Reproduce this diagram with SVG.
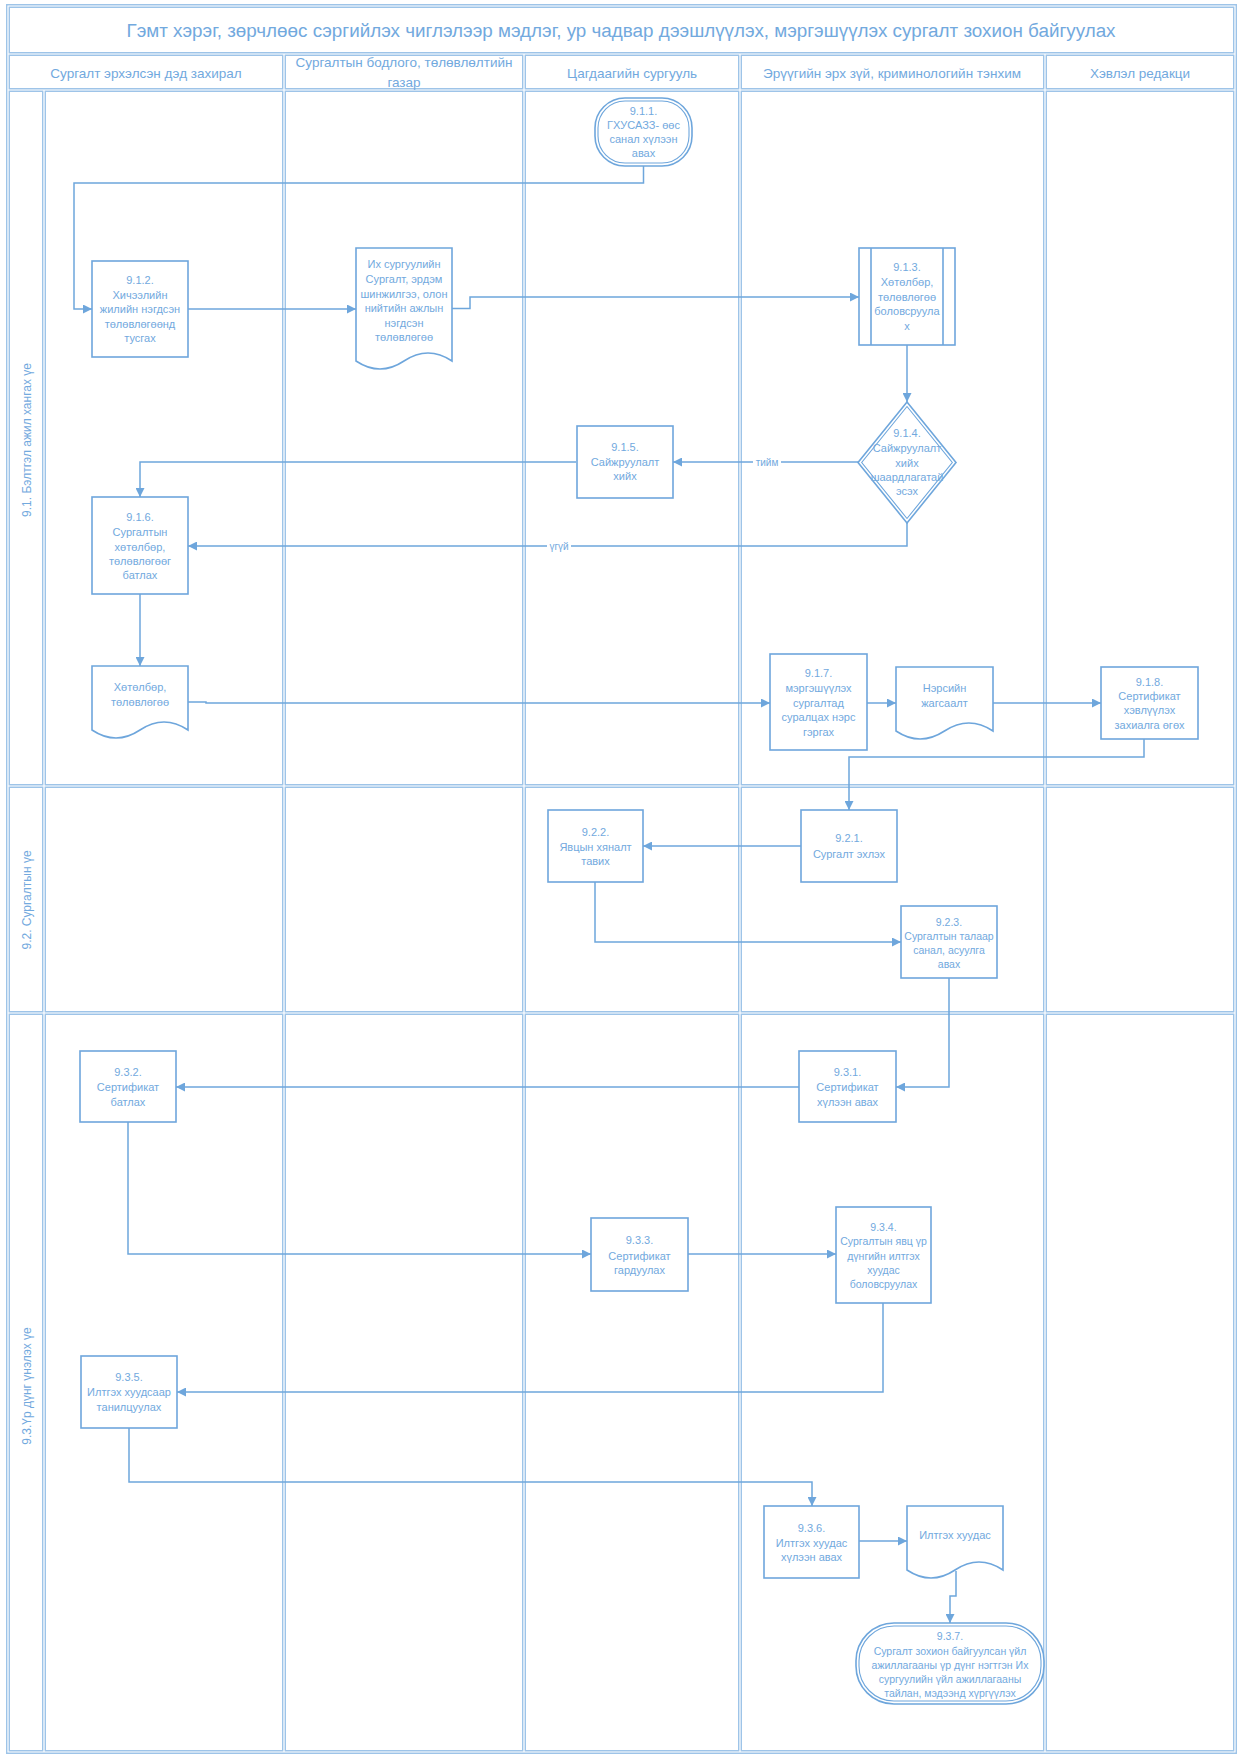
<svg xmlns="http://www.w3.org/2000/svg" width="1240" height="1754" viewBox="0 0 1240 1754">
<style>
  .grid { fill: none; stroke: #9ec4e8; stroke-width: 4; }
  .gridin { fill: none; stroke: #ffffff; stroke-width: 1.2; }
  .node { fill: #ffffff; stroke: #6ea6dc; stroke-width: 1.6; }
  .node2 { fill: none; stroke: #6ea6dc; stroke-width: 1.1; }
  .conn { fill: none; stroke: #6ea6dc; stroke-width: 1.5; marker-end: url(#arr); }
  text { font-family: "Liberation Sans", Arial, sans-serif; fill: #72a9de; }
  .t { font-size: 11px; text-anchor: middle; dominant-baseline: central; }
  .ts { font-size: 10.5px; text-anchor: middle; dominant-baseline: central; }
  .h { font-size: 13.5px; text-anchor: middle; dominant-baseline: central; }
  .lane { font-size: 12px; text-anchor: middle; dominant-baseline: central; }
  .title { font-size: 18px; text-anchor: middle; dominant-baseline: central; }
  .lbl { font-size: 10px; text-anchor: middle; dominant-baseline: central; }
</style>
<defs>
  <marker id="arr" viewBox="0 0 10 10" refX="10" refY="5" markerWidth="9" markerHeight="9" markerUnits="userSpaceOnUse" orient="auto">
    <path d="M0,0 L10,5 L0,10 Z" fill="#6ea6dc"/>
  </marker>
  <path id="gridpath" d="M8,6 H1235 V1752 H8 Z M8,54 H1235 M8,90 H1235 M8,786 H1235 M8,1013 H1235 M284,54 V1752 M524,54 V1752 M740,54 V1752 M1045,54 V1752 M44,90 V1752"/>
</defs>
<rect x="0" y="0" width="1240" height="1754" fill="#ffffff"/>
<g id="grid">
  <use href="#gridpath" class="grid"/>
  <use href="#gridpath" class="gridin"/>
</g>
<g id="title">
  <text class="title" x="621" y="31" textLength="989" lengthAdjust="spacingAndGlyphs">Гэмт хэрэг, зөрчлөөс сэргийлэх чиглэлээр мэдлэг, ур чадвар дээшлүүлэх, мэргэшүүлэх сургалт зохион байгуулах</text>
</g>
<g id="headers">
  <text class="h" x="146" y="73">Сургалт эрхэлсэн дэд захирал</text>
  <text class="h" x="404" y="62">Сургалтын бодлого, төлөвлөлтийн</text>
  <text class="h" x="404" y="82">газар</text>
  <text class="h" x="632" y="73">Цагдаагийн сургууль</text>
  <text class="h" x="892" y="73">Эрүүгийн эрх зүй, криминологийн тэнхим</text>
  <text class="h" x="1140" y="73">Хэвлэл редакци</text>
</g>
<g id="lanes">
  <text class="lane" transform="translate(27,440) rotate(-90)">9.1. Бэлтгэл ажил хангах үе</text>
  <text class="lane" transform="translate(27,900) rotate(-90)">9.2. Сургалтын үе</text>
  <text class="lane" transform="translate(27,1386) rotate(-90)">9.3.Үр дүнг үнэлэх үе</text>
</g>
<g id="connectors">
  <path class="conn" d="M643.5,166 V183 H74 V309 H92"/>
  <path class="conn" d="M188,309 H356"/>
  <path class="conn" d="M452,308.5 H470 V297 H859"/>
  <path class="conn" d="M907,345 V402"/>
  <path class="conn" d="M859,462 H673"/>
  <path class="conn" d="M576,462 H140 V497"/>
  <path class="conn" d="M907,523 V546 H188"/>
  <path class="conn" d="M140,594 V666"/>
  <path class="conn" d="M188,702 H206 V703 H770"/>
  <path class="conn" d="M867,703 H896"/>
  <path class="conn" d="M993,703 H1101"/>
  <path class="conn" d="M1144,739 V757 H849 V810"/>
  <path class="conn" d="M801,846 H643"/>
  <path class="conn" d="M595,882 V942 H901"/>
  <path class="conn" d="M949,978 V1087 H896"/>
  <path class="conn" d="M799,1087 H176"/>
  <path class="conn" d="M128,1122 V1254 H591"/>
  <path class="conn" d="M688,1254 H836"/>
  <path class="conn" d="M883,1303 V1392 H177"/>
  <path class="conn" d="M129,1428 V1482 H812 V1506"/>
  <path class="conn" d="M859,1541 H907"/>
  <path class="conn" d="M956,1571 V1596 H950 V1623"/>
  <rect x="753" y="456" width="28" height="12" fill="#ffffff"/>
  <text class="lbl" x="767" y="462">тийм</text>
  <rect x="547" y="540" width="24" height="12" fill="#ffffff"/>
  <text class="lbl" x="559" y="546">үгүй</text>
</g>
<g id="n911">
  <rect class="node" x="595" y="98" width="97" height="68" rx="30" ry="30"/>
  <rect class="node2" x="598" y="101" width="91" height="62" rx="27" ry="27"/>
  <text class="t" x="643.5" y="111">9.1.1.</text>
  <text class="t" x="643.5" y="125">ГХУСАЗЗ- өөс</text>
  <text class="t" x="643.5" y="139">санал хүлээн</text>
  <text class="t" x="643.5" y="153">авах</text>
</g>
<g id="n912">
  <rect class="node" x="92" y="261" width="96" height="96"/>
  <text class="t" x="140" y="280">9.1.2.</text>
  <text class="t" x="140" y="294.5">Хичээлийн</text>
  <text class="t" x="140" y="309">жилийн нэгдсэн</text>
  <text class="t" x="140" y="323.5">төлөвлөгөөнд</text>
  <text class="t" x="140" y="338">тусгах</text>
</g>
<g id="doc1">
  <path class="node" d="M356,248 H452 V361 Q428,345 404,361 Q380,377 356,361 Z"/>
  <text class="t" x="404" y="264">Их сургуулийн</text>
  <text class="t" x="404" y="279">Сургалт, эрдэм</text>
  <text class="t" x="404" y="294">шинжилгээ, олон</text>
  <text class="t" x="404" y="308">нийтийн ажлын</text>
  <text class="t" x="404" y="323">нэгдсэн</text>
  <text class="t" x="404" y="337">төлөвлөгөө</text>
</g>
<g id="n913">
  <rect class="node" x="859" y="248" width="96" height="97"/>
  <line class="node" x1="871" y1="248" x2="871" y2="345"/>
  <line class="node" x1="943" y1="248" x2="943" y2="345"/>
  <text class="t" x="907" y="267">9.1.3.</text>
  <text class="t" x="907" y="282">Хөтөлбөр,</text>
  <text class="t" x="907" y="297">төлөвлөгөө</text>
  <text class="t" x="907" y="311">боловсруула</text>
  <text class="t" x="907" y="326">х</text>
</g>
<g id="n914">
  <path class="node" d="M907,402 L956,462.5 L907,523 L858,462.5 Z"/>
  <path class="node2" d="M907,406.5 L952.3,462.5 L907,518.5 L861.7,462.5 Z"/>
  <text class="t" x="907" y="433">9.1.4.</text>
  <text class="t" x="907" y="448">Сайжруулалт</text>
  <text class="t" x="907" y="462.5">хийх</text>
  <text class="t" x="907" y="477">шаардлагатай</text>
  <text class="t" x="907" y="491">эсэх</text>
</g>
<g id="n915">
  <rect class="node" x="577" y="426" width="96" height="72"/>
  <text class="t" x="625" y="447">9.1.5.</text>
  <text class="t" x="625" y="462">Сайжруулалт</text>
  <text class="t" x="625" y="476">хийх</text>
</g>
<g id="n916">
  <rect class="node" x="92" y="497" width="96" height="97"/>
  <text class="t" x="140" y="517">9.1.6.</text>
  <text class="t" x="140" y="532">Сургалтын</text>
  <text class="t" x="140" y="547">хөтөлбөр,</text>
  <text class="t" x="140" y="561">төлөвлөгөөг</text>
  <text class="t" x="140" y="575">батлах</text>
</g>
<g id="doc2">
  <path class="node" d="M92,666 H188 V730 Q164,714 140,730 Q116,746 92,730 Z"/>
  <text class="t" x="140" y="687">Хөтөлбөр,</text>
  <text class="t" x="140" y="702">төлөвлөгөө</text>
</g>
<g id="n917">
  <rect class="node" x="770" y="654" width="97" height="96"/>
  <text class="t" x="818.5" y="673">9.1.7.</text>
  <text class="t" x="818.5" y="688">мэргэшүүлэх</text>
  <text class="t" x="818.5" y="703">сургалтад</text>
  <text class="t" x="818.5" y="717">суралцах нэрс</text>
  <text class="t" x="818.5" y="732">гэргах</text>
</g>
<g id="doc3">
  <path class="node" d="M896,667 H993 V731 Q969,715 944.5,731 Q920,747 896,731 Z"/>
  <text class="t" x="944.5" y="688">Нэрсийн</text>
  <text class="t" x="944.5" y="703">жагсаалт</text>
</g>
<g id="n918">
  <rect class="node" x="1101" y="667" width="97" height="72"/>
  <text class="t" x="1149.5" y="682">9.1.8.</text>
  <text class="t" x="1149.5" y="696">Сертификат</text>
  <text class="t" x="1149.5" y="710">хэвлүүлэх</text>
  <text class="t" x="1149.5" y="724.5">захиалга өгөх</text>
</g>
<g id="n921">
  <rect class="node" x="801" y="810" width="96" height="72"/>
  <text class="t" x="849" y="838">9.2.1.</text>
  <text class="t" x="849" y="854">Сургалт эхлэх</text>
</g>
<g id="n922">
  <rect class="node" x="548" y="810" width="95" height="72"/>
  <text class="t" x="595.5" y="832">9.2.2.</text>
  <text class="t" x="595.5" y="847">Явцын хяналт</text>
  <text class="t" x="595.5" y="861">тавих</text>
</g>
<g id="n923">
  <rect class="node" x="901" y="906" width="96" height="72"/>
  <text class="ts" x="949" y="922">9.2.3.</text>
  <text class="ts" x="949" y="936">Сургалтын талаар</text>
  <text class="ts" x="949" y="950">санал, асуулга</text>
  <text class="ts" x="949" y="964">авах</text>
</g>
<g id="n931">
  <rect class="node" x="799" y="1051" width="97" height="71"/>
  <text class="t" x="847.5" y="1072">9.3.1.</text>
  <text class="t" x="847.5" y="1087">Сертификат</text>
  <text class="t" x="847.5" y="1102">хүлээн авах</text>
</g>
<g id="n932">
  <rect class="node" x="80" y="1051" width="96" height="71"/>
  <text class="t" x="128" y="1072">9.3.2.</text>
  <text class="t" x="128" y="1087">Сертификат</text>
  <text class="t" x="128" y="1102">батлах</text>
</g>
<g id="n933">
  <rect class="node" x="591" y="1218" width="97" height="73"/>
  <text class="t" x="639.5" y="1240">9.3.3.</text>
  <text class="t" x="639.5" y="1255.5">Сертификат</text>
  <text class="t" x="639.5" y="1270">гардуулах</text>
</g>
<g id="n934">
  <rect class="node" x="836" y="1207" width="95" height="96"/>
  <text class="ts" x="883.5" y="1227">9.3.4.</text>
  <text class="ts" x="883.5" y="1241">Сургалтын явц үр</text>
  <text class="ts" x="883.5" y="1256">дүнгийн илтгэх</text>
  <text class="ts" x="883.5" y="1270">хуудас</text>
  <text class="ts" x="883.5" y="1284">боловсруулах</text>
</g>
<g id="n935">
  <rect class="node" x="81" y="1356" width="96" height="72"/>
  <text class="t" x="129" y="1377">9.3.5.</text>
  <text class="t" x="129" y="1392">Илтгэх хуудсаар</text>
  <text class="t" x="129" y="1407">танилцуулах</text>
</g>
<g id="n936">
  <rect class="node" x="764" y="1506" width="95" height="72"/>
  <text class="t" x="811.5" y="1528">9.3.6.</text>
  <text class="t" x="811.5" y="1543">Илтгэх хуудас</text>
  <text class="t" x="811.5" y="1557">хүлээн авах</text>
</g>
<g id="doc4">
  <path class="node" d="M907,1506 H1003 V1570 Q979,1554 955,1570 Q931,1586 907,1570 Z"/>
  <text class="t" x="955" y="1535">Илтгэх хуудас</text>
</g>
<g id="n937">
  <rect class="node" x="856" y="1623" width="188" height="81" rx="38" ry="38"/>
  <rect class="node2" x="859" y="1626" width="182" height="75" rx="35" ry="35"/>
  <text class="ts" x="950" y="1636">9.3.7.</text>
  <text class="ts" x="950" y="1650.5">Сургалт зохион байгуулсан үйл</text>
  <text class="ts" x="950" y="1664.5">ажиллагааны үр дүнг нэгтгэн Их</text>
  <text class="ts" x="950" y="1678.5">сургуулийн үйл ажиллагааны</text>
  <text class="ts" x="950" y="1692.5">тайлан, мэдээнд хүргүүлэх</text>
</g>
</svg>
